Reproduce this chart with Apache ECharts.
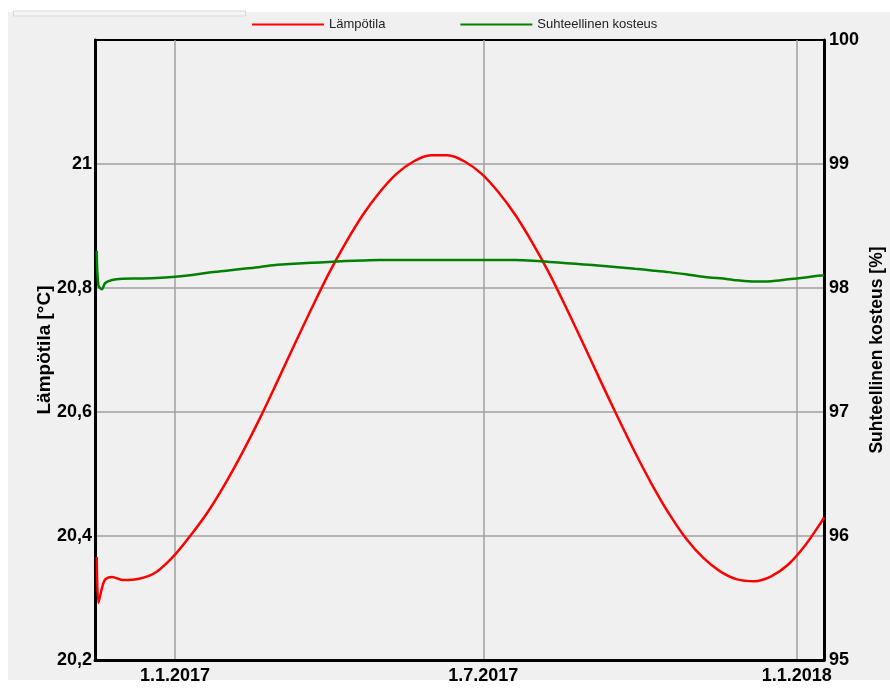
<!DOCTYPE html>
<html><head><meta charset="utf-8">
<script src="https://cdn.jsdelivr.net/npm/echarts@6/dist/echarts.min.js"></script>
<style>html,body{margin:0;padding:0;background:#fff}#c{width:890px;height:690px}</style>
</head><body><div id="c"></div>
<script>
const dates = ['2016-11-16','2016-11-17','2016-11-19','2016-11-21','2016-11-25','2016-12-01','2016-12-11','2016-12-21',
  '2017-01-01','2017-01-11','2017-01-21','2017-01-31','2017-02-10','2017-02-20','2017-03-02','2017-03-12',
  '2017-03-22','2017-04-01','2017-04-11','2017-04-21','2017-05-01','2017-05-11','2017-05-21','2017-05-31',
  '2017-06-10','2017-06-20','2017-06-30','2017-07-10','2017-07-20','2017-07-30','2017-08-09','2017-08-19',
  '2017-08-29','2017-09-08','2017-09-18','2017-09-28','2017-10-08','2017-10-18','2017-10-28','2017-11-07',
  '2017-11-17','2017-11-27','2017-12-07','2017-12-17','2017-12-27','2018-01-06','2018-01-16','2018-01-17'];
const temperature = [20.366, 20.292, 20.315, 20.330, 20.334, 20.329, 20.331, 20.342,
  20.370, 20.404, 20.442, 20.487, 20.537, 20.591, 20.649, 20.708,
  20.766, 20.822, 20.872, 20.917, 20.954, 20.984, 21.004, 21.014,
  21.014, 21.004, 20.984, 20.954, 20.917, 20.872, 20.822, 20.766,
  20.708, 20.649, 20.591, 20.535, 20.483, 20.436, 20.396, 20.365,
  20.343, 20.330, 20.327, 20.335, 20.354, 20.385, 20.425, 20.430];
const humidity = [98.30, 98.02, 97.99, 98.04, 98.065, 98.075, 98.077, 98.08,
  98.09, 98.105, 98.125, 98.14, 98.155, 98.17, 98.188, 98.196,
  98.203, 98.21, 98.217, 98.222, 98.225, 98.225, 98.225, 98.225,
  98.225, 98.225, 98.225, 98.225, 98.225, 98.22, 98.21, 98.20,
  98.19, 98.18, 98.168, 98.155, 98.142, 98.128, 98.11, 98.09,
  98.078, 98.062, 98.052, 98.055, 98.07, 98.085, 98.10, 98.10];
const xTickDates = ['2017-01-01', '2017-07-01', '2018-01-01'];
const xRange = ['2016-11-15', '2018-01-17'];
const seriesNames = ['Lämpötila', 'Suhteellinen kosteus'];
const axisNames = ['Lämpötila [°C]', 'Suhteellinen kosteus [%]'];

function t(s) { const p = s.split('-').map(Number); return new Date(p[0], p[1] - 1, p[2]).getTime(); }
const FONT = "'Liberation Sans', Arial, sans-serif";
const chart = echarts.init(document.getElementById('c'));
const lblStyle = { color: '#000', fontWeight: 'bold', fontSize: 18, fontFamily: FONT };
chart.setOption({
  animation: false,
  backgroundColor: '#f0f0f0',
  graphic: [
    { type: 'rect', shape: { x: 0, y: 0, width: 890, height: 12 }, style: { fill: '#fff' }, silent: true },
    { type: 'rect', shape: { x: 0, y: 0, width: 8, height: 690 }, style: { fill: '#fff' }, silent: true },
    { type: 'rect', shape: { x: 0, y: 680, width: 890, height: 10 }, style: { fill: '#fff' }, silent: true },
    { type: 'rect', shape: { x: 13.5, y: 11, width: 232, height: 5 }, style: { fill: '#f5f5f5', stroke: '#d9d9d9', lineWidth: 1 }, silent: true }
  ],
  legend: {
    data: seriesNames, left: 247, top: 13, icon: 'rect', itemWidth: 72, itemHeight: 2, itemGap: 75,
    textStyle: { fontSize: 13, color: '#222', fontFamily: FONT }
  },
  grid: { left: 95, right: 66, top: 40, bottom: 30, outerBoundsMode: 'none', containLabel: false,
    show: true, borderColor: '#000', borderWidth: 2, backgroundColor: 'transparent' },
  xAxis: {
    type: 'value', min: t(xRange[0]), max: t(xRange[1]),
    axisLine: { show: true, lineStyle: { color: '#000', width: 3 } },
    axisTick: { show: false, customValues: xTickDates.map(t) },
    axisLabel: Object.assign({}, lblStyle, {
      customValues: xTickDates.map(t), margin: 7, hideOverlap: false,
      formatter: function (v) { const d = new Date(v); return d.getDate() + '.' + (d.getMonth() + 1) + '.' + d.getFullYear(); }
    }),
    splitLine: { show: true, lineStyle: { color: '#a0a0a0', width: 1.5 } }
  },
  yAxis: [
    {
      type: 'value', min: 20.2, max: 21.2, interval: 0.2, position: 'left',
      name: axisNames[0], nameLocation: 'middle', nameRotate: 90, nameGap: 41, nameMoveOverlap: false,
      nameTextStyle: { color: '#000', fontWeight: 'bold', fontSize: 19, fontFamily: FONT },
      axisLine: { show: true, lineStyle: { color: '#000', width: 3 } },
      axisTick: { show: false },
      axisLabel: Object.assign({}, lblStyle, {
        margin: 3,
        formatter: function (v) { const r = Math.round(v * 10) / 10; if (r > 21.1) return ''; return String(r).replace('.', ','); }
      }),
      splitLine: { show: true, showMinLine: false, showMaxLine: false, lineStyle: { color: '#a0a0a0', width: 1.5 } }
    },
    {
      type: 'value', min: 95, max: 100, interval: 1, position: 'right',
      name: axisNames[1], nameLocation: 'middle', nameRotate: 90, nameGap: 44, nameMoveOverlap: false,
      nameTextStyle: { color: '#000', fontWeight: 'bold', fontSize: 17.5, fontFamily: FONT },
      axisLine: { show: true, lineStyle: { color: '#000', width: 3 } },
      axisTick: { show: false },
      axisLabel: Object.assign({}, lblStyle, { margin: 5 }),
      splitLine: { show: false }
    }
  ],
  series: [
    {
      name: seriesNames[0], type: 'line', yAxisIndex: 0, showSymbol: false, symbol: 'none', smooth: 0.3,
      data: dates.map((d, i) => [t(d), temperature[i]]),
      lineStyle: { color: '#ff0000', width: 2.5 }, itemStyle: { color: '#ff0000' }
    },
    {
      name: seriesNames[1], type: 'line', yAxisIndex: 1, showSymbol: false, symbol: 'none', smooth: 0.3,
      data: dates.map((d, i) => [t(d), humidity[i]]),
      lineStyle: { color: '#008000', width: 2.5 }, itemStyle: { color: '#008000' }
    }
  ]
});
</script></body></html>
